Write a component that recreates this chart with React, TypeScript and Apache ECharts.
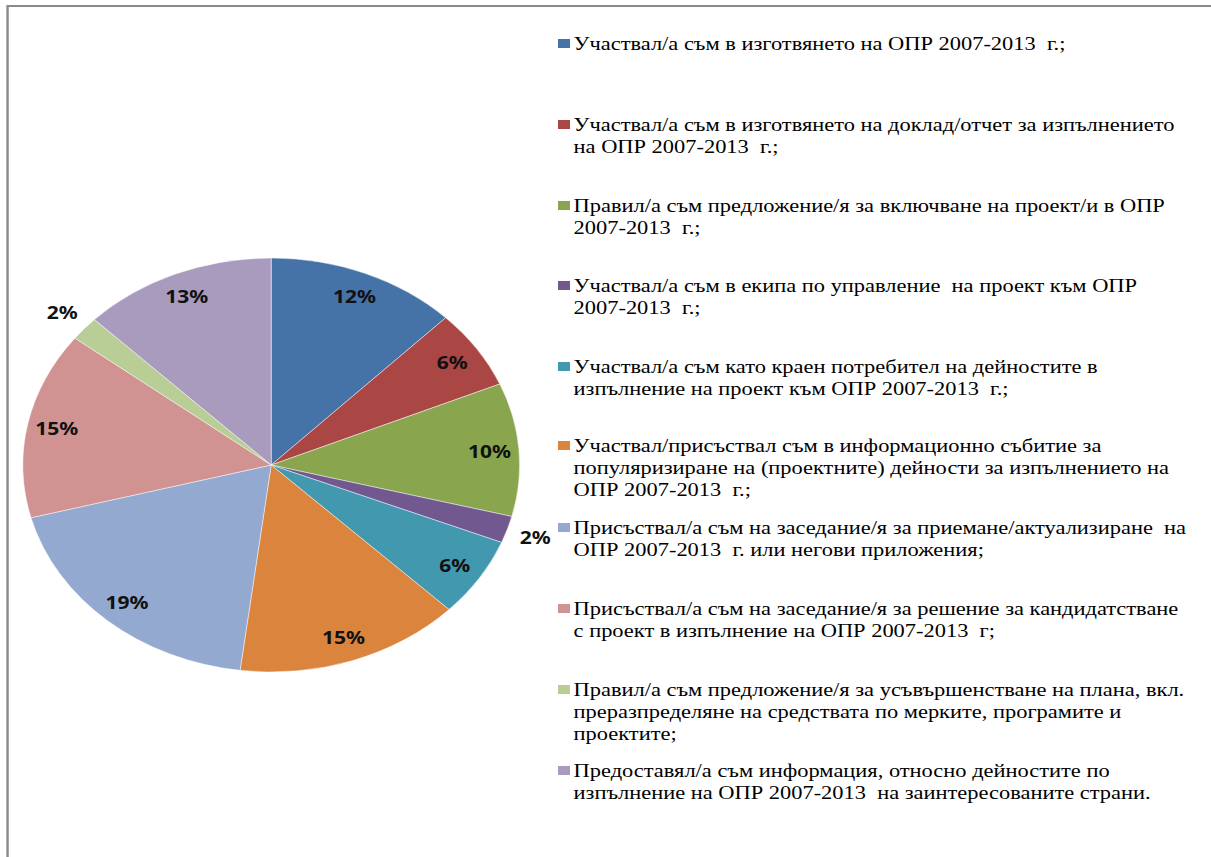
import React, { useEffect, useRef } from "react";
import * as echarts from "echarts";

const categories: string[] = [
  "Участвал/а съм в изготвянето на ОПР 2007-2013  г.;",
  "Участвал/а съм в изготвянето на доклад/отчет за изпълнението\nна ОПР 2007-2013  г.;",
  "Правил/а съм предложение/я за включване на проект/и в ОПР\n2007-2013  г.;",
  "Участвал/а съм в екипа по управление  на проект към ОПР\n2007-2013  г.;",
  "Участвал/а съм като краен потребител на дейностите в\nизпълнение на проект към ОПР 2007-2013  г.;",
  "Участвал/присъствал съм в информационно събитие за\nпопуляризиране на (проектните) дейности за изпълнението на\nОПР 2007-2013  г.;",
  "Присъствал/а съм на заседание/я за приемане/актуализиране  на\nОПР 2007-2013  г. или негови приложения;",
  "Присъствал/а съм на заседание/я за решение за кандидатстване\nс проект в изпълнение на ОПР 2007-2013  г;",
  "Правил/а съм предложение/я за усъвършенстване на плана, вкл.\nпреразпределяне на средствата по мерките, програмите и\nпроектите;",
  "Предоставял/а съм информация, относно дейностите по\nизпълнение на ОПР 2007-2013  на заинтересованите страни.",
];

// shares in percent (labels show rounded values)
const values: number[] = [12.4, 6.2, 10.4, 2.1, 6.2, 14.7, 18.9, 14.6, 1.9, 12.6];

const colors: string[] = [
  "#4572A7", "#AA4643", "#89A54E", "#71588F", "#4198AF",
  "#DB843D", "#93A9CF", "#D19392", "#B9CD96", "#A99BBD",
];

// top of each legend entry (unscaled px)
const legendTops: number[] = [34, 115, 196, 276, 357, 436, 518, 599, 680, 761];

const SX = 1.2;

function buildOption() {
  const center = [226, 465];
  const labelStyle = {
    fontFamily: "'Noto Sans', sans-serif",
    fontWeight: "bold" as const,
    fontSize: 17.5,
    color: "#111",
  };
  const pct = (p: any) => Math.round(p.percent) + "%";

  const rich: any = {
    g: { width: 3, height: 9, lineHeight: 22 },
    ind: { width: 13, height: 9, lineHeight: 22 },
    t: { fontFamily: "'Liberation Serif', 'Times New Roman', serif", fontSize: 18.7, lineHeight: 22, color: "#000" },
  };
  colors.forEach((c, i) => {
    rich["m" + i] = { width: 10, height: 9, lineHeight: 22, backgroundColor: c };
  });

  const legends = categories.map((name, i) => ({
    orient: "vertical",
    left: 460,
    top: legendTops[i],
    padding: 0,
    icon: "none",
    itemWidth: 0,
    itemHeight: 0,
    selectedMode: false,
    data: [name],
    formatter: (n: string) => {
      const idx = categories.indexOf(n);
      return n
        .split("\n")
        .map((line, k) => (k === 0 ? `{m${idx}|}{g|}` : `{ind|}`) + `{t|${line}}`)
        .join("\n");
    },
    textStyle: { rich },
  }));

  const baseData = categories.map((name, i) => ({ name, value: values[i] }));

  return {
    animation: false,
    backgroundColor: "#fff",
    color: colors,
    legend: legends,
    graphic: [
      {
        type: "polyline",
        silent: true,
        shape: { points: [[6.3, 900], [6.3, 6], [1100, 6]] },
        style: { stroke: "#8a8a8a", lineWidth: 2, fill: "none" },
      },
    ],
    series: [
      {
        type: "pie",
        center,
        radius: [0, 207],
        startAngle: 90,
        clockwise: true,
        silent: true,
        emphasis: { disabled: true },
        label: { show: false },
        labelLine: { show: false },
        itemStyle: { borderColor: "rgba(255,255,255,0.7)", borderWidth: 0.6 },
        data: baseData.map((d, i) => ({ ...d, itemStyle: { color: colors[i] } })),
      },
      {
        type: "pie",
        center,
        radius: [152, 207],
        startAngle: 90,
        silent: true,
        avoidLabelOverlap: false,
        emphasis: { disabled: true },
        itemStyle: { color: "rgba(0,0,0,0)" },
        labelLine: { show: false },
        label: { position: "inside", formatter: pct, ...labelStyle },
        data: baseData.map((d) => ({ ...d, label: { show: d.value >= 3 } })),
      },
      {
        type: "pie",
        center,
        radius: [207, 250],
        startAngle: 90,
        silent: true,
        avoidLabelOverlap: false,
        emphasis: { disabled: true },
        itemStyle: { color: "rgba(0,0,0,0)" },
        labelLine: { show: false },
        label: { position: "inside", formatter: pct, ...labelStyle },
        data: baseData.map((d) => ({ ...d, label: { show: d.value < 3 } })),
      },
    ],
  };
}

export default function App() {
  const ref = useRef<HTMLDivElement>(null);
  useEffect(() => {
    if (!ref.current) return;
    const chart = echarts.init(ref.current, null, { renderer: "svg" });
    chart.setOption(buildOption() as any);
    return () => chart.dispose();
  }, []);
  return (
    <div
      style={{
        position: "absolute",
        left: 0,
        top: 0,
        width: 1211,
        height: 857,
        overflow: "hidden",
        background: "#fff",
      }}
    >
      <div
        ref={ref}
        style={{
          width: Math.ceil(1211 / SX),
          height: 857,
          transform: `scaleX(${SX})`,
          transformOrigin: "0 0",
        }}
      />
    </div>
  );
}
